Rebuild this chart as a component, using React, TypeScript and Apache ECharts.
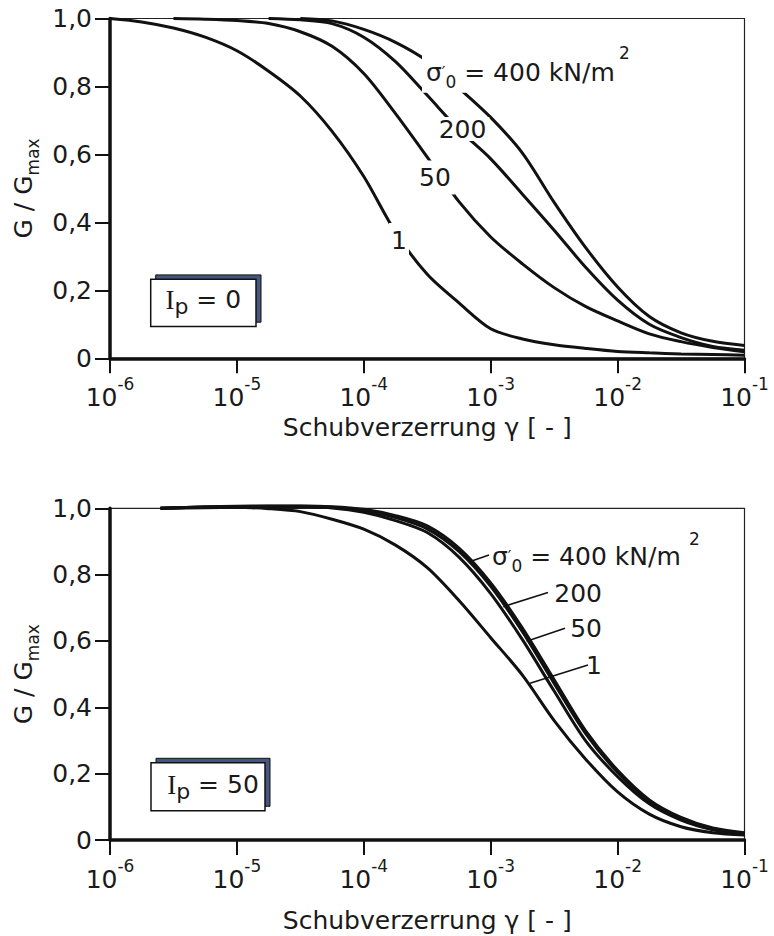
import React, { useEffect, useRef } from "react";
import * as echarts from "echarts";

// ---- axis ticks / texts ----
const Y_TICKS = [0, 0.2, 0.4, 0.6, 0.8, 1.0];
const Y_TICK_LABELS = ["0", "0,2", "0,4", "0,6", "0,8", "1,0"];
const X_MIN = 1e-6;
const X_MAX = 1e-1;
const X_TITLE = "Schubverzerrung γ [ - ]";
const STRESS_LABELS = ["1", "50", "200", "400"];
const PI_LABELS = ["0", "50"];

// ---- Ip = 0 (top panel): strain gamma and G/Gmax ----
const IP0_S1_GAMMA = [1e-6, 1.778e-6, 3.162e-6, 5.623e-6, 1e-5, 1.778e-5, 3.162e-5, 5.623e-5, 1e-4, 1.778e-4, 3.162e-4, 5.623e-4, 1e-3, 1.778e-3, 3.162e-3, 5.623e-3, 1e-2, 1.778e-2, 3.162e-2, 5.623e-2, 1e-1];
const IP0_S1_G = [1.0, 0.99, 0.972, 0.945, 0.905, 0.845, 0.772, 0.668, 0.535, 0.371, 0.247, 0.163, 0.087, 0.057, 0.04, 0.029, 0.02, 0.016, 0.013, 0.011, 0.009];

const IP0_S50_GAMMA = [3.162e-6, 5.623e-6, 1e-5, 1.778e-5, 3.162e-5, 5.623e-5, 1e-4, 1.778e-4, 3.162e-4, 5.623e-4, 1e-3, 1.778e-3, 3.162e-3, 5.623e-3, 1e-2, 1.778e-2, 3.162e-2, 5.623e-2, 1e-1];
const IP0_S50_G = [1.0, 0.998, 0.994, 0.985, 0.961, 0.918, 0.838, 0.72, 0.592, 0.461, 0.357, 0.278, 0.208, 0.152, 0.11, 0.072, 0.049, 0.032, 0.019];

const IP0_S200_GAMMA = [1.778e-5, 3.162e-5, 5.623e-5, 1e-4, 1.778e-4, 3.162e-4, 5.623e-4, 1e-3, 1.778e-3, 3.162e-3, 5.623e-3, 1e-2, 1.778e-2, 3.162e-2, 5.623e-2, 1e-1];
const IP0_S200_G = [1.0, 0.996, 0.985, 0.945, 0.873, 0.774, 0.673, 0.587, 0.483, 0.377, 0.267, 0.171, 0.1, 0.061, 0.035, 0.024];

const IP0_S400_GAMMA = [3.162e-5, 5.623e-5, 1e-4, 1.778e-4, 3.162e-4, 5.623e-4, 1e-3, 1.778e-3, 3.162e-3, 5.623e-3, 1e-2, 1.778e-2, 3.162e-2, 5.623e-2, 1e-1];
const IP0_S400_G = [1.0, 0.993, 0.968, 0.93, 0.875, 0.795, 0.709, 0.604, 0.459, 0.325, 0.21, 0.123, 0.075, 0.05, 0.038];

// ---- Ip = 50 (bottom panel) ----
const IP50_GAMMA = [2.5e-6, 5.623e-6, 1e-5, 1.778e-5, 3.162e-5, 5.623e-5, 1e-4, 1.778e-4, 3.162e-4, 5.623e-4, 1e-3, 1.778e-3, 3.162e-3, 5.623e-3, 1e-2, 1.778e-2, 3.162e-2, 5.623e-2, 1e-1];
const IP50_S1_G = [1.0, 1.002, 1.003, 0.999, 0.99, 0.967, 0.937, 0.889, 0.821, 0.722, 0.61, 0.497, 0.36, 0.243, 0.145, 0.078, 0.04, 0.022, 0.015];
const IP50_S50_G = [1.0, 1.004, 1.005, 1.005, 1.004, 1.001, 0.988, 0.963, 0.927, 0.853, 0.743, 0.604, 0.449, 0.298, 0.191, 0.109, 0.06, 0.031, 0.018];
const IP50_S200_G = [1.0, 1.004, 1.005, 1.006, 1.006, 1.003, 0.993, 0.972, 0.938, 0.87, 0.765, 0.628, 0.472, 0.32, 0.204, 0.117, 0.065, 0.034, 0.02];
const IP50_S400_G = [1.0, 1.004, 1.006, 1.007, 1.007, 1.005, 0.997, 0.978, 0.947, 0.88, 0.775, 0.639, 0.483, 0.328, 0.21, 0.121, 0.068, 0.036, 0.022];

const FONT = "'DejaVu Sans', 'Liberation Sans', sans-serif";
const SERIF = "'Liberation Serif', 'DejaVu Serif', serif";
const INK = "#111";
const TXT = "#1a1a1a";

const GRIDS = [
  { left: 110, top: 18.5, width: 634.5, height: 339.8, nameGap: 54 },
  { left: 110, top: 508.3, width: 634.5, height: 338.4, nameGap: 65 },
];

function lineSeries(gamma: number[], g: number[], idx: number, name: string) {
  return {
    type: "line",
    name,
    xAxisIndex: idx,
    yAxisIndex: idx,
    data: gamma.map((x, i) => [x, g[i]]),
    showSymbol: false,
    symbol: "none",
    smooth: 0.3,
    clip: false,
    silent: true,
    z: 2,
    lineStyle: { color: INK, width: 3 },
  };
}

function sigmaLabel(x: number, y: number, bg: boolean) {
  return [
    {
      type: "text",
      x,
      y,
      z: 10,
      silent: true,
      style: {
        text: "{t|σ}{pr|′}{sub|0}{t| = " + STRESS_LABELS[3] + " kN/m}",
        fill: TXT,
        fontFamily: FONT,
        fontSize: 25,
        align: "left",
        verticalAlign: "top",
        backgroundColor: bg ? "#fff" : undefined,
        padding: bg ? [2, 4, 2, 4] : 0,
        rich: {
          t: { fontSize: 25, lineHeight: 36, fontFamily: FONT, fill: TXT },
          pr: { fontSize: 16, lineHeight: 36, fontFamily: FONT, fill: TXT },
          sub: { fontSize: 17, lineHeight: 36, verticalAlign: "bottom", fontFamily: FONT, fill: TXT },
        },
      },
    },
    {
      type: "text",
      x: x + 197,
      y: y - 8.5,
      z: 11,
      silent: true,
      style: { text: "2", fill: TXT, fontFamily: FONT, fontSize: 17, align: "left", verticalAlign: "top" },
    },
  ];
}

function plainLabel(text: string, x: number, y: number, align: string, pad: number[] | null) {
  return {
    type: "text",
    x,
    y,
    z: 10,
    silent: true,
    style: {
      text,
      fill: TXT,
      fontFamily: FONT,
      fontSize: 25,
      lineHeight: 22,
      align,
      verticalAlign: "middle",
      backgroundColor: pad ? "#fff" : undefined,
      padding: pad || 0,
    },
  };
}

function ipBox(x: number, y: number, w: number, h: number, tx: number, ty: number, label: string) {
  return [
    {
      type: "rect",
      z: 10,
      silent: true,
      shape: { x: x + 5, y: y - 4.4, width: w, height: h },
      style: { fill: "#46567f", stroke: INK, lineWidth: 1 },
    },
    {
      type: "rect",
      z: 11,
      silent: true,
      shape: { x, y, width: w, height: h },
      style: { fill: "#fff", stroke: INK, lineWidth: 1.5 },
    },
    {
      type: "text",
      x: tx,
      y: ty,
      z: 12,
      silent: true,
      style: {
        text: "{i|I}{p|p}{t| = " + label + "}",
        fill: TXT,
        align: "center",
        verticalAlign: "top",
        rich: {
          i: { fontFamily: SERIF, fontSize: 27, lineHeight: 36, fill: TXT },
          p: { fontFamily: FONT, fontSize: 22, lineHeight: 36, verticalAlign: "bottom", fill: TXT },
          t: { fontFamily: FONT, fontSize: 25, lineHeight: 36, fill: TXT },
        },
      },
    },
  ];
}

function leader(x1: number, y1: number, x2: number, y2: number) {
  return {
    type: "line",
    z: 10,
    silent: true,
    shape: { x1, y1, x2, y2 },
    style: { stroke: INK, lineWidth: 1.6 },
  };
}

function buildOption() {
  const xAxes = GRIDS.map((g, i) => ({
    type: "log",
    gridIndex: i,
    logBase: 10,
    min: X_MIN,
    max: X_MAX,
    name: X_TITLE,
    nameLocation: "middle",
    nameGap: g.nameGap,
    nameTextStyle: { fontFamily: FONT, fontSize: 25, color: TXT, lineHeight: 30 },
    axisLine: { show: true, onZero: false, lineStyle: { color: INK, width: 3.5 } },
    axisTick: { show: true, inside: false, length: 15, lineStyle: { color: INK, width: 2 } },
    minorTick: { show: false },
    splitLine: { show: false },
    axisLabel: {
      show: true,
      margin: 17,
      showMinLabel: true,
      showMaxLabel: true,
      color: TXT,
      formatter: (v: number) => {
        const e = Math.round(Math.log10(v));
        return "{b|10}{s|" + e + "}";
      },
      rich: {
        b: { fontFamily: FONT, fontSize: 25, lineHeight: 44, color: TXT },
        s: { fontFamily: FONT, fontSize: 17, lineHeight: 14, verticalAlign: "top", color: TXT },
      },
    },
  }));

  const yAxes = GRIDS.map((g, i) => ({
    type: "value",
    gridIndex: i,
    min: 0,
    max: 1,
    interval: 0.2,
    name: "{a|G / G}{b|max}",
    nameLocation: "middle",
    nameRotate: 90,
    nameGap: 64,
    nameTextStyle: {
      color: TXT,
      rich: {
        a: { fontFamily: FONT, fontSize: 25, lineHeight: 36, color: TXT },
        b: { fontFamily: FONT, fontSize: 17, lineHeight: 36, verticalAlign: "bottom", color: TXT },
      },
    },
    axisLine: { show: true, onZero: false, lineStyle: { color: INK, width: 3.5 } },
    axisTick: { show: true, inside: false, length: 15, lineStyle: { color: INK, width: 2 } },
    splitLine: { show: false },
    axisLabel: {
      show: true,
      margin: 18,
      color: TXT,
      fontFamily: FONT,
      fontSize: 25,
      formatter: (v: number) => {
        const k = Y_TICKS.findIndex((t) => Math.abs(t - v) < 1e-9);
        return k >= 0 ? Y_TICK_LABELS[k] : "";
      },
    },
  }));

  const series = [
    lineSeries(IP0_S1_GAMMA, IP0_S1_G, 0, "Ip0-" + STRESS_LABELS[0]),
    lineSeries(IP0_S50_GAMMA, IP0_S50_G, 0, "Ip0-" + STRESS_LABELS[1]),
    lineSeries(IP0_S200_GAMMA, IP0_S200_G, 0, "Ip0-" + STRESS_LABELS[2]),
    lineSeries(IP0_S400_GAMMA, IP0_S400_G, 0, "Ip0-" + STRESS_LABELS[3]),
    lineSeries(IP50_GAMMA, IP50_S1_G, 1, "Ip50-" + STRESS_LABELS[0]),
    lineSeries(IP50_GAMMA, IP50_S50_G, 1, "Ip50-" + STRESS_LABELS[1]),
    lineSeries(IP50_GAMMA, IP50_S200_G, 1, "Ip50-" + STRESS_LABELS[2]),
    lineSeries(IP50_GAMMA, IP50_S400_G, 1, "Ip50-" + STRESS_LABELS[3]),
  ];

  const graphic: any[] = [
    // top panel curve labels (cut gaps into the curves)
    ...sigmaLabel(422, 52.8, true),
    plainLabel(STRESS_LABELS[2], 462.5, 129, "center", [1, 3, 1, 3]),
    plainLabel(STRESS_LABELS[1], 435, 177.5, "center", [6, 4, 6, 4]),
    plainLabel(STRESS_LABELS[0], 399, 240, "center", [6, 2, 6, 2]),
    ...ipBox(150.7, 279.3, 105.3, 47.3, 203.3, 281.5, PI_LABELS[0]),
    // bottom panel labels with leader lines
    ...sigmaLabel(492, 538.6, false),
    plainLabel(STRESS_LABELS[2], 602, 593, "right", null),
    plainLabel(STRESS_LABELS[1], 602, 628, "right", null),
    plainLabel(STRESS_LABELS[0], 602, 665, "right", null),
    leader(489, 555, 471.7, 561),
    leader(548, 592.5, 503.3, 606.7),
    leader(565, 628.3, 526.7, 641.2),
    leader(588, 665, 530, 683.3),
    ...ipBox(151, 762.7, 114, 48, 213, 766.5, PI_LABELS[1]),
  ];

  return {
    animation: false,
    backgroundColor: "#fff",
    grid: GRIDS.map((g) => ({
      left: g.left,
      top: g.top,
      width: g.width,
      height: g.height,
      show: true,
      borderColor: "#222",
      borderWidth: 1.2,
      backgroundColor: "transparent",
      containLabel: false,
    })),
    xAxis: xAxes,
    yAxis: yAxes,
    series,
    graphic,
  };
}

export default function App() {
  const ref = useRef<HTMLDivElement>(null);
  useEffect(() => {
    if (!ref.current) return;
    const chart = echarts.init(ref.current, null, { renderer: "svg" });
    chart.setOption(buildOption() as any);
    return () => chart.dispose();
  }, []);
  return (
    <div
      ref={ref}
      style={{ position: "absolute", left: 0, top: 0, width: 774, height: 936, background: "#fff" }}
    />
  );
}
